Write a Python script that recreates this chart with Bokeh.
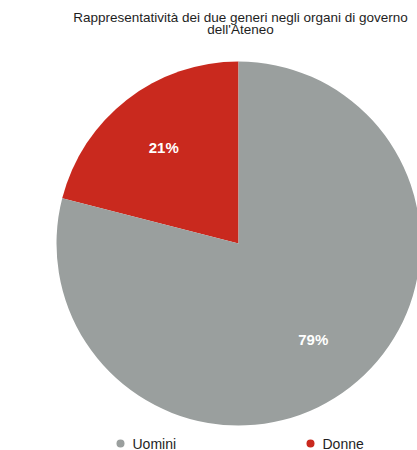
import math
from bokeh.plotting import figure
from bokeh.models import Range1d, ColumnDataSource
from bokeh.core.properties import value
from bokeh.embed import file_html
from bokeh.resources import INLINE

title_lines = ["Rappresentatività dei due generi negli organi di governo", "dell'Ateneo"]
categories = ["Donne", "Uomini"]
shares = [21, 79]
colors = ["#c9291e", "#9a9f9e"]
legend_order = ["Uomini", "Donne"]

W, H = 417, 450
p = figure(width=W, height=H, output_backend="svg", toolbar_location=None,
           x_range=Range1d(0, W), y_range=Range1d(0, H), min_border=0)
p.axis.visible = False
p.grid.visible = False
p.outline_line_color = None
p.background_fill_color = "white"

cx, cy, r = 238, 207, 182
start = math.pi / 2
starts, ends, lx, ly, labels = [], [], [], [], []
total = sum(shares)
for s in shares:
    a = 2 * math.pi * s / total
    starts.append(start)
    ends.append(start + a)
    mid = start + a / 2
    lx.append(cx + 0.67 * r * math.cos(mid))
    ly.append(cy + 0.67 * r * math.sin(mid))
    labels.append(f"{s}%")
    start += a

src = ColumnDataSource(dict(start=starts, end=ends, color=colors, lx=lx, ly=ly, label=labels))
p.wedge(x=cx, y=cy, radius=r, start_angle="start", end_angle="end", fill_color="color",
        line_color=None, source=src)
p.text(x="lx", y="ly", text="label", source=src, text_color="white", text_font=value("Liberation Sans"),
       text_font_size="15px", text_font_style="bold", text_align="center", text_baseline="middle")

# title
p.text(x=[240, 240], y=[433, 421], text=title_lines, text_color="#1e1e1e",
       text_font=value("Liberation Sans"), text_font_size="13.5px",
       text_align="center", text_baseline="middle")

# legend
leg_x = [120, 310]
leg_colors = [colors[categories.index(n)] for n in legend_order]
p.scatter(x=leg_x, y=[7, 7], size=8, fill_color=leg_colors, line_color=None)
p.text(x=[x + 12 for x in leg_x], y=[7, 7], text=legend_order, text_color="#1e1e1e",
       text_font=value("Liberation Sans"), text_font_size="14px",
       text_align="left", text_baseline="middle")

open("out.html", "w").write(file_html(p, INLINE))
